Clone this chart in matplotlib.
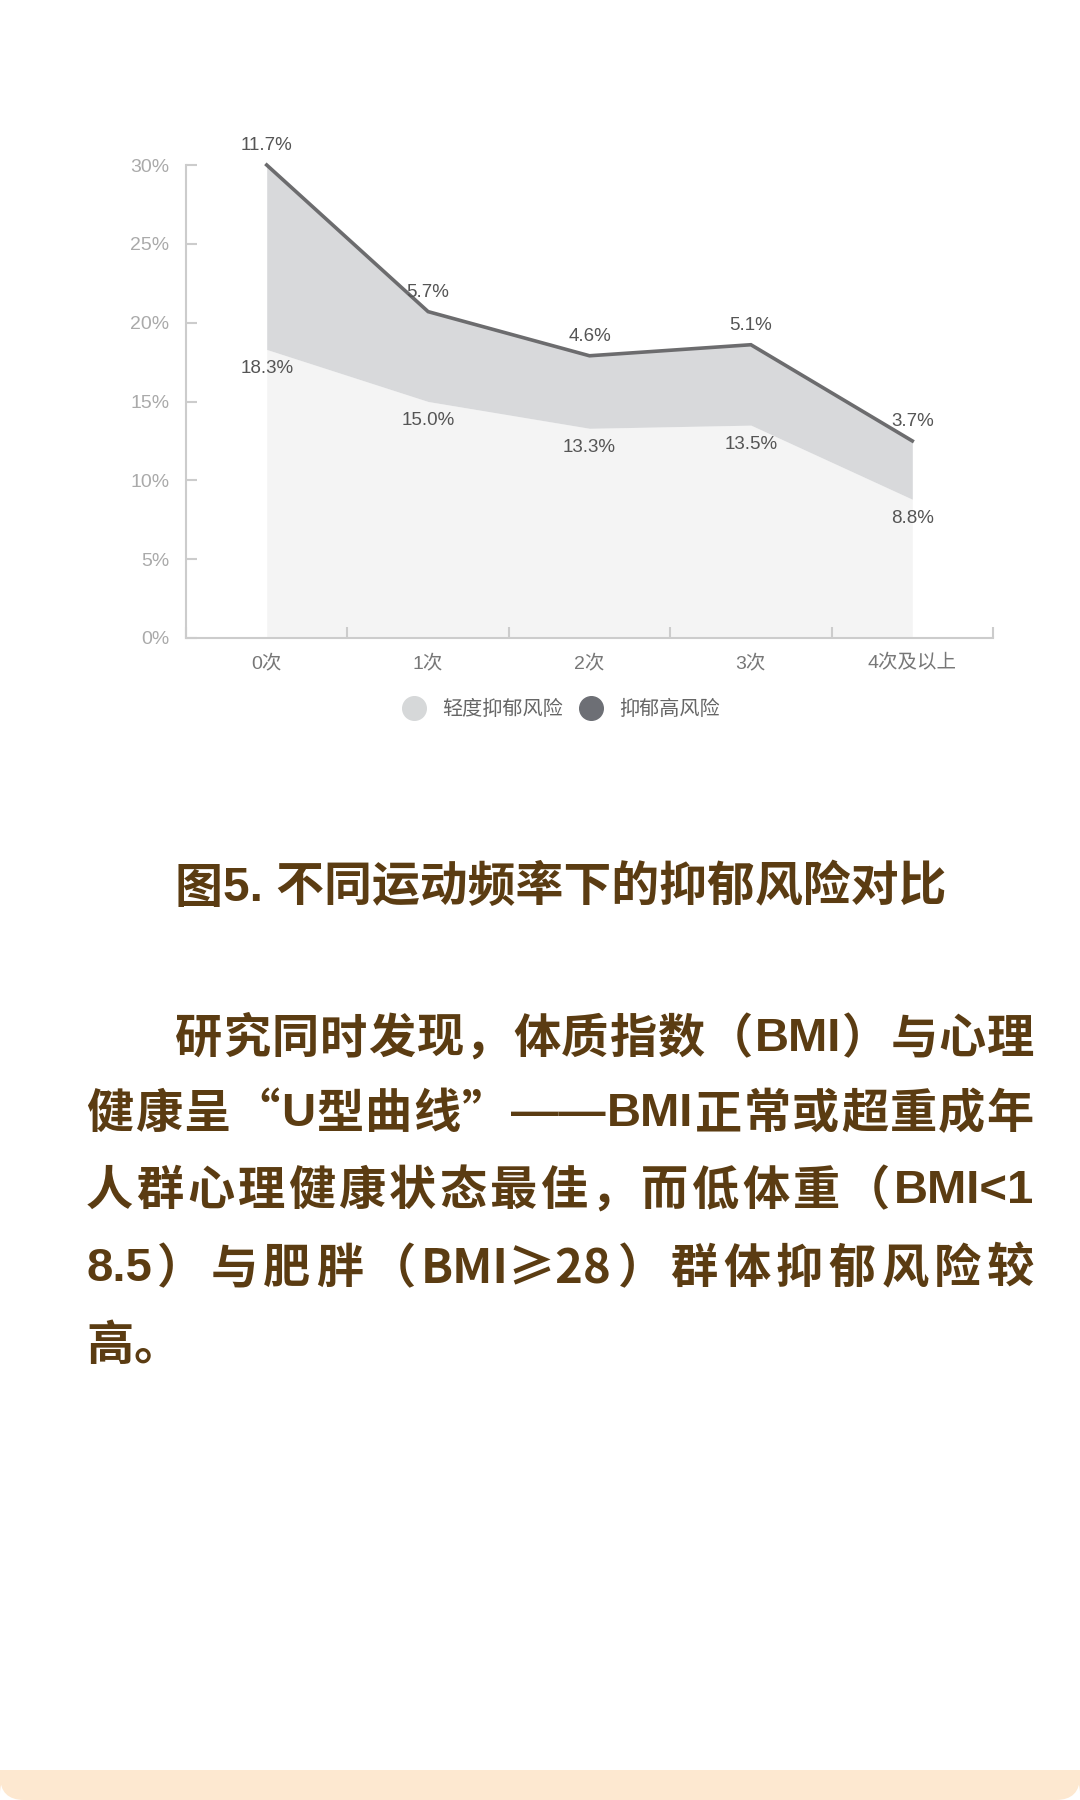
import re
import matplotlib
matplotlib.use("Agg")
import matplotlib.pyplot as plt
from matplotlib.lines import Line2D
from matplotlib.patches import FancyBboxPatch, Rectangle

plt.rcParams['font.family'] = ['Noto Sans CJK SC', 'DejaVu Sans']

# data
categories = ['0次', '1次', '2次', '3次', '4次及以上']
mild_risk = [18.3, 15.0, 13.3, 13.5, 8.8]      # 轻度抑郁风险
high_risk = [11.7, 5.7, 4.6, 5.1, 3.7]         # 抑郁高风险
series_names = ['轻度抑郁风险', '抑郁高风险']
y_ticks = [0, 5, 10, 15, 20, 25, 30]

title = '图5. 不同运动频率下的抑郁风险对比'
body_lines = [
    '研究同时发现，体质指数（BMI）与心理',
    '健康呈“U型曲线”——BMI正常或超重成年',
    '人群心理健康状态最佳，而低体重（BMI<1',
    '8.5）与肥胖（BMI≥28）群体抑郁风险较',
    '高。',
]

W, H = 1080, 1800
fig = plt.figure(figsize=(W / 100, H / 100), dpi=100)
fig.patch.set_facecolor('white')


def fx(x):
    return x / W


def fy(y):
    return 1 - y / H


# chart area
ax = fig.add_axes([fx(186), fy(638), fx(993) - fx(186), fy(165) - fy(638)])
x = list(range(len(categories)))
total = [a + b for a, b in zip(mild_risk, high_risk)]

ax.fill_between(x, 0, mild_risk, color='#f4f4f4', lw=0, zorder=1)
ax.fill_between(x, mild_risk, total, color='#d8d9db', lw=0, zorder=1)
ax.plot(x, total, color='#6c6c6e', lw=2.6, clip_on=False, zorder=3,
        solid_joinstyle='miter')

lab_font = ['Liberation Sans', 'Noto Sans CJK SC']
for i in x:
    ax.annotate(f'{high_risk[i]:.1f}%', (i, total[i]), xytext=(0, 19),
                textcoords='offset pixels', ha='center', va='center',
                fontsize=13.5, color='#555555', family=lab_font)
    ax.annotate(f'{mild_risk[i]:.1f}%', (i, mild_risk[i]), xytext=(0, -19),
                textcoords='offset pixels', ha='center', va='center',
                fontsize=13.5, color='#555555', family=lab_font)

ax.set_xlim(-0.5, len(categories) - 0.5)
ax.set_ylim(0, 30)
ax.set_yticks(y_ticks)
ax.set_yticklabels([f'{v}%' for v in y_ticks], family=lab_font)
ax.set_xticks(x)
ax.set_xticklabels(categories, family=lab_font)
ax.set_xticks([i - 0.5 for i in range(len(categories) + 1)], minor=True)

for s in ['top', 'right']:
    ax.spines[s].set_visible(False)
for s in ['left', 'bottom']:
    ax.spines[s].set_color('#cccccc')
    ax.spines[s].set_linewidth(1.5)
ax.set_facecolor('none')

ax.tick_params(axis='y', direction='in', length=8, width=1.5, color='#cccccc',
               labelsize=14, labelcolor='#aaaaaa', pad=12)
ax.tick_params(axis='x', which='major', length=0, labelsize=14,
               labelcolor='#777777', pad=12)
ax.tick_params(axis='x', which='minor', direction='in', length=8, width=1.5,
               color='#cccccc')

# legend
handles = [
    Line2D([], [], ls='none', marker='o', markersize=17,
           markerfacecolor='#d6d8d9', markeredgecolor='#d6d8d9'),
    Line2D([], [], ls='none', marker='o', markersize=17,
           markerfacecolor='#6d6f75', markeredgecolor='#6d6f75'),
]
fig.legend(handles, series_names, loc='center', ncol=2, frameon=False,
           bbox_to_anchor=(fx(562), fy(710)), fontsize=14.5,
           labelcolor='#666666', handlelength=1.0, handletextpad=0.9,
           columnspacing=0.9)

# title and body text
brown = '#5b3c12'
text_font = ['Liberation Sans', 'Noto Sans CJK SC']
first = fig.text(fx(175), fy(883), '图', fontsize=34.5, fontweight='bold',
                 color=brown, ha='left', va='center_baseline')
title_rest = fig.text(fx(175), fy(883), title[1:], fontsize=34.5, fontweight='bold',
                      color=brown, ha='left', va='center_baseline', family=text_font)

renderer = fig.canvas.get_renderer()
title_rest.set_position((fx(175 + first.get_window_extent(renderer).width), fy(883)))

body_size = 34
line_y = [1034, 1109, 1186, 1264, 1341]
for k, line in enumerate(body_lines):
    x0 = 175 if k == 0 else 86
    x1 = 1034
    # latin runs and the double dash are kept together as one unit
    units = re.findall(r'[A-Za-z0-9.<≥]+|——|.', line)
    objs = []
    for u in units:
        latin = u.isascii() or u == '≥' or u == '——'
        objs.append(fig.text(0, 0, u, fontsize=body_size, fontweight='bold',
                             color=brown, ha='left', va='center_baseline',
                             family=text_font if latin else None))
    widths = [t.get_window_extent(renderer).width for t in objs]
    if k < len(body_lines) - 1 and len(units) > 1:
        gap = (x1 - x0 - sum(widths)) / (len(units) - 1)
    else:
        gap = 0
    pos = x0
    for t, w in zip(objs, widths):
        t.set_position((fx(pos), fy(line_y[k])))
        pos += w + gap

# beige band at the bottom
band = '#fde8d0'
band_ax = fig.add_axes([0, 0, 1, 30 / H])
band_ax.set_xlim(0, W)
band_ax.set_ylim(0, 30)
band_ax.axis('off')
band_ax.add_patch(Rectangle((0, 15), W, 15, facecolor=band, edgecolor='none'))
band_ax.add_patch(FancyBboxPatch((0, 0), W, 30, boxstyle='round,pad=0,rounding_size=24',
                                 facecolor=band, edgecolor='none'))

fig.savefig('out.png', dpi=100, facecolor='white')
